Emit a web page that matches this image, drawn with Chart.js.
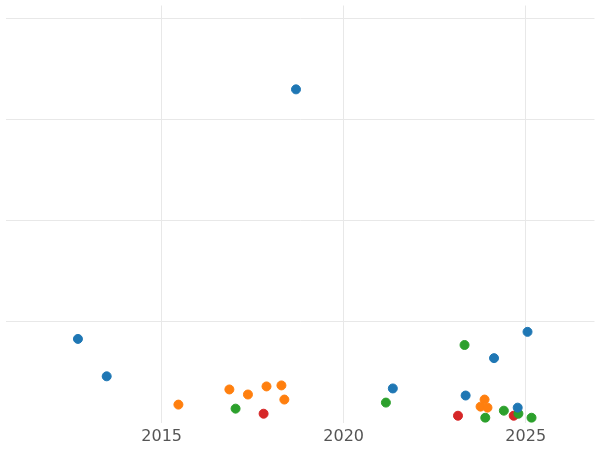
<!DOCTYPE html>
<html>
<head>
<meta charset="utf-8">
<script src="https://cdn.jsdelivr.net/npm/chart.js@4/dist/chart.umd.min.js"></script>
<style>
  html, body { margin: 0; padding: 0; background: #fff; overflow: hidden; }
  #wrap { width: 600px; height: 450px; }
</style>
</head>
<body>
<div id="wrap"><canvas id="chart"></canvas></div>
<script>
// values: [year, value]
const bluePoints = [[2012.70, 0.83], [2013.49, 0.46], [2018.69, 3.30], [2021.35, 0.34],
  [2023.35, 0.27], [2024.13, 0.64], [2025.05, 0.90], [2024.78, 0.15]];
const orangePoints = [[2015.46, 0.18], [2016.86, 0.33], [2017.37, 0.28], [2017.88, 0.36],
  [2018.29, 0.37], [2018.37, 0.23], [2023.87, 0.23], [2023.76, 0.16], [2023.95, 0.15]];
const greenPoints = [[2017.03, 0.14], [2021.16, 0.20], [2023.32, 0.77], [2023.89, 0.05],
  [2024.40, 0.12], [2024.80, 0.09], [2025.16, 0.05]];
const redPoints = [[2017.80, 0.09], [2023.14, 0.07], [2024.67, 0.07]];
const xTicks = [2015, 2020, 2025];
const yTicks = [1, 2, 3, 4];

function toXY(points) {
  return points.map(p => ({ x: p[0], y: p[1] }));
}

function series(points, color) {
  return {
    data: toXY(points),
    backgroundColor: color,
    borderColor: color,
    pointRadius: 4.5,
    pointHoverRadius: 4.5
  };
}

new Chart(document.getElementById('chart'), {
  type: 'scatter',
  data: {
    datasets: [
      series(bluePoints, '#1f77b4'),
      series(orangePoints, '#ff7f0e'),
      series(greenPoints, '#2ca02c'),
      series(redPoints, '#d62728')
    ]
  },
  options: {
    responsive: true,
    maintainAspectRatio: false,
    animation: false,
    layout: { padding: { left: -6, right: -6, top: -6, bottom: 0 } },
    plugins: { legend: { display: false }, tooltip: { enabled: false } },
    scales: {
      x: {
        min: 2010.71,
        max: 2026.89,
        afterBuildTicks: axis => { axis.ticks = xTicks.map(v => ({ value: v })); },
        grid: { color: '#e8e8e8', drawTicks: false },
        border: { display: false },
        ticks: {
          color: '#555',
          font: { family: 'DejaVu Sans', size: 16 },
          padding: 4,
          callback: v => String(v)
        }
      },
      y: {
        min: 0,
        max: 4.13,
        afterBuildTicks: axis => { axis.ticks = yTicks.map(v => ({ value: v })); },
        grid: { color: '#e8e8e8', drawTicks: false },
        border: { display: false },
        ticks: { display: false }
      }
    }
  }
});
</script>
</body>
</html>
